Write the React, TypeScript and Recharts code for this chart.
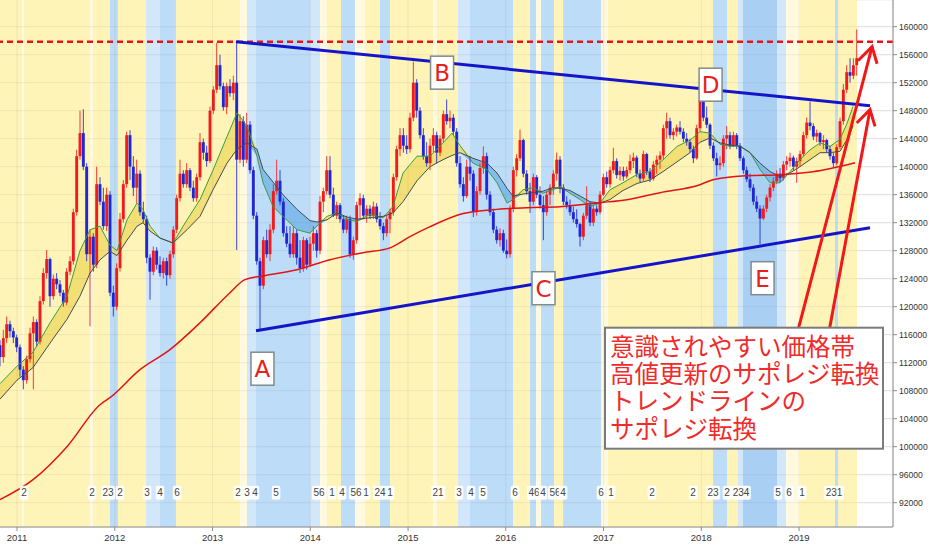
import React from 'react';
import {
  ComposedChart, Bar, Line, Area, Scatter, XAxis, YAxis, CartesianGrid,
  ReferenceArea, ReferenceLine,
} from 'recharts';

// ---------- axis ticks ----------
const yearTicks = [2011, 2012, 2013, 2014, 2015, 2016, 2017, 2018, 2019];
const priceTicks = [92, 96, 100, 104, 108, 112, 116, 120, 124, 128, 132, 136, 140, 144, 148, 152, 156, 160]; // thousands of yen
const X_DOMAIN = [2010.826, 2019.961];
const Y_DOMAIN = [88.53, 163.81];

// ---------- candles (thousand yen): [open, high, low, close], one every ~12.5 days ----------
const START = 2010.826;
const STEP = 0.0341;
const candles: number[][] = [
  [114.5,115.2,111.5,112.8],[112.8,116.7,112.0,115.5],[115.5,118.6,114.8,117.5],[117.5,118.0,115.6,116.5],[116.5,117.0,114.8,115.6],
  [115.6,116.0,113.5,114.2],[114.2,114.6,110.0,111.0],[111.0,111.5,108.2,109.5],[109.5,113.0,109.0,112.5],[112.5,117.0,112.0,116.2],
  [116.2,118.6,108.2,117.8],[117.8,118.2,114.3,115.0],[115.0,121.5,114.6,120.8],[120.8,125.5,120.3,124.8],[124.8,128.1,124.0,126.8],
  [126.8,127.0,120.0,121.5],[121.5,124.6,121.0,124.0],[124.0,124.8,122.5,123.2],[123.2,123.8,121.5,122.0],[122.0,122.4,120.0,120.6],
  [120.6,125.5,120.2,125.0],[125.0,127.2,124.5,126.5],[126.5,134.0,126.0,133.5],[133.5,142.4,133.0,141.5],[141.5,148.0,141.0,144.8],
  [144.8,148.2,139.5,140.0],[140.0,140.5,126.5,127.5],[127.5,131.0,117.2,130.0],[130.0,130.5,125.0,126.0],[126.0,140.0,125.5,137.5],
  [137.5,138.5,134.5,135.0],[135.0,137.0,131.0,131.5],[131.5,137.0,130.8,136.0],[136.0,136.5,121.5,122.0],[122.0,123.0,118.6,120.0],
  [120.0,126.2,119.5,125.5],[125.5,133.4,125.0,132.5],[132.5,138.1,132.0,137.5],[137.5,145.0,137.0,144.5],[144.5,145.2,138.1,140.0],
  [140.0,141.5,135.8,137.0],[137.0,141.0,134.8,139.0],[139.0,139.5,133.0,133.5],[133.5,135.0,132.0,132.5],[132.5,133.0,126.2,127.0],
  [127.0,127.5,121.0,125.0],[125.0,128.6,124.5,128.0],[128.0,128.5,125.3,126.0],[126.0,127.2,124.3,124.8],[124.8,127.0,124.0,126.5],
  [126.5,127.0,123.0,124.5],[124.5,128.0,124.0,127.5],[127.5,131.5,127.0,131.0],[131.0,136.0,130.5,135.5],[135.5,141.0,135.0,139.0],
  [139.0,139.5,137.0,137.5],[137.5,140.5,137.0,139.5],[139.5,139.8,136.5,137.0],[137.0,138.0,135.0,135.5],[135.5,139.0,135.0,138.5],
  [138.5,144.8,138.0,143.5],[143.5,144.0,141.0,142.0],[142.0,143.0,140.0,140.8],[140.8,148.6,140.5,148.0],[148.0,151.5,147.5,151.0],
  [151.0,157.7,150.5,154.5],[154.5,156.0,151.0,151.5],[151.5,152.0,148.0,148.5],[148.5,152.0,147.5,151.5],[151.5,152.5,150.0,150.5],
  [150.5,153.0,149.5,152.0],[152.0,157.9,128.1,141.0],[141.0,147.5,140.5,146.5],[146.5,147.2,140.0,141.0],[141.0,147.7,140.5,146.0],
  [146.0,146.5,139.0,139.5],[139.5,140.0,132.5,133.0],[133.0,133.5,126.0,126.5],[126.5,127.0,116.7,123.0],[123.0,130.0,122.5,129.5],
  [129.5,131.0,127.0,127.5],[127.5,131.8,126.5,131.0],[131.0,137.5,130.5,136.5],[136.5,141.0,136.0,138.0],[138.0,139.5,134.5,135.0],
  [135.0,135.5,130.0,130.5],[130.5,131.5,128.5,129.0],[129.0,131.5,127.0,127.5],[127.5,131.5,127.0,130.5],[130.5,131.0,126.0,127.0],
  [127.0,129.5,124.8,125.5],[125.5,130.0,125.0,129.5],[129.5,129.8,125.3,126.0],[126.0,130.0,125.8,129.0],[129.0,131.5,128.0,130.5],
  [130.5,131.0,127.0,128.0],[128.0,135.8,127.5,135.0],[135.0,137.0,133.5,136.5],[136.5,141.5,136.0,139.5],[139.5,141.5,135.5,136.0],
  [136.0,137.0,132.8,133.0],[133.0,135.0,132.5,134.5],[134.5,134.8,132.0,132.5],[132.5,133.0,130.5,131.0],[131.0,133.0,130.5,132.5],
  [132.5,133.0,127.0,127.5],[127.5,130.0,126.7,129.5],[129.5,135.0,129.0,134.5],[134.5,136.2,132.5,135.5],[135.5,136.0,132.5,133.0],
  [133.0,134.5,132.0,134.0],[134.0,134.5,132.5,133.0],[133.0,135.0,132.5,134.3],[134.3,134.8,132.0,132.5],[132.5,133.5,131.0,131.5],
  [131.5,132.0,129.5,130.5],[130.5,133.0,130.0,132.5],[132.5,134.0,130.5,133.5],[133.5,139.0,133.0,138.5],[138.5,143.0,138.0,142.5],
  [142.5,145.5,141.5,144.5],[144.5,145.5,142.0,143.0],[143.0,144.5,141.8,142.5],[142.5,147.7,142.0,147.0],[147.0,155.0,146.5,152.0],
  [152.0,152.5,147.0,148.0],[148.0,148.5,144.0,144.5],[144.5,145.5,141.0,141.5],[141.5,143.5,140.0,140.5],[140.5,144.0,139.5,143.0],
  [143.0,145.5,142.0,144.5],[144.5,145.0,140.5,142.0],[142.0,144.5,141.5,144.0],[144.0,148.0,143.5,147.5],[147.5,149.6,146.0,146.5],
  [146.5,148.0,145.5,147.0],[147.0,147.5,144.5,145.0],[145.0,145.5,140.0,140.5],[140.5,141.5,137.0,137.5],[137.5,138.5,135.0,135.8],
  [135.8,141.0,135.5,140.0],[140.0,141.5,138.0,139.0],[139.0,139.5,132.8,133.5],[133.5,137.2,133.0,136.5],[136.5,140.5,136.0,139.8],
  [139.8,142.9,139.0,141.5],[141.5,142.0,135.3,136.0],[136.0,136.5,133.0,133.5],[133.5,134.0,130.5,131.0],[131.0,131.5,129.0,129.5],
  [129.5,131.2,128.6,130.5],[130.5,131.0,127.7,128.0],[128.0,129.6,126.9,127.5],[127.5,134.5,127.0,134.0],[134.0,140.0,133.5,139.5],
  [139.5,141.8,138.6,141.2],[141.2,145.3,140.8,143.8],[143.8,144.0,138.5,139.0],[139.0,139.5,136.0,136.5],[136.5,137.7,133.4,135.0],
  [135.0,139.0,134.5,138.5],[138.5,138.8,135.5,136.0],[136.0,137.2,134.0,134.5],[134.5,135.8,129.5,133.5],[133.5,136.5,133.0,136.0],
  [136.0,137.5,134.5,137.0],[137.0,139.5,136.0,139.0],[139.0,142.0,138.0,141.0],[141.0,141.5,136.2,137.0],[137.0,137.5,134.5,135.0],
  [135.0,135.8,134.0,134.5],[134.5,135.3,133.0,133.5],[133.5,134.3,132.0,132.5],[132.5,133.9,131.3,131.8],[131.8,132.0,128.6,130.0],
  [130.0,133.4,129.5,133.0],[133.0,137.2,132.5,134.5],[134.5,135.0,131.5,132.0],[132.0,134.5,131.5,134.0],[134.0,134.5,133.0,133.5],
  [133.5,136.5,133.2,136.0],[136.0,139.0,135.8,138.5],[138.5,139.3,137.0,137.5],[137.5,140.0,137.0,139.5],[139.5,142.7,139.0,140.8],
  [140.8,141.2,138.3,138.8],[138.8,140.0,138.0,139.4],[139.4,140.0,138.0,138.6],[138.6,140.0,138.3,139.5],[139.5,141.7,139.0,140.8],
  [140.8,142.0,139.8,141.3],[141.3,141.6,138.5,139.0],[139.0,139.6,137.8,138.3],[138.3,142.3,138.0,141.8],[141.8,142.0,138.8,139.3],
  [139.3,139.8,137.8,138.3],[138.3,140.8,138.0,140.3],[140.3,141.6,139.0,141.0],[141.0,142.2,139.7,141.6],[141.6,146.0,141.0,145.5],
  [145.5,147.7,144.0,146.5],[146.5,147.0,144.0,144.5],[144.5,145.5,143.8,145.0],[145.0,146.0,144.3,145.6],[145.6,146.5,144.6,145.0],
  [145.0,145.5,143.5,144.0],[144.0,144.8,143.0,143.5],[143.5,144.0,142.0,142.5],[142.5,143.0,140.5,141.2],[141.2,146.0,141.0,145.5],
  [145.5,150.0,145.0,149.5],[149.5,149.8,146.5,147.0],[147.0,148.6,145.5,146.0],[146.0,146.2,142.5,143.0],[143.0,143.5,140.8,141.2],
  [141.2,142.0,138.6,140.2],[140.2,141.5,139.5,140.5],[140.5,144.5,140.0,144.0],[144.0,145.8,142.5,144.5],[144.5,145.0,142.5,143.0],
  [143.0,145.0,142.8,144.5],[144.5,144.8,142.5,143.0],[143.0,143.4,140.8,141.2],[141.2,141.5,139.0,139.5],[139.5,140.0,137.8,138.2],
  [138.2,139.0,136.5,137.0],[137.0,137.5,134.5,135.0],[135.0,135.8,133.5,134.0],[134.0,134.5,128.9,132.6],[132.6,134.5,132.4,134.0],
  [134.0,136.0,133.5,135.6],[135.6,137.5,135.0,137.0],[137.0,138.5,136.5,137.9],[137.9,139.5,137.5,139.0],[139.0,139.8,137.8,138.4],
  [138.4,140.8,138.0,140.3],[140.3,141.5,139.5,140.8],[140.8,142.0,140.0,141.3],[141.3,141.6,139.5,140.0],[140.0,141.3,137.7,140.8],
  [140.8,142.3,140.0,141.8],[141.8,145.0,141.5,144.5],[144.5,147.0,144.0,146.3],[146.3,149.3,145.2,145.8],[145.8,146.2,143.8,144.3],
  [144.3,145.3,143.5,144.8],[144.8,145.0,143.0,143.5],[143.5,144.5,142.5,143.8],[143.8,144.0,142.0,142.5],[142.5,143.0,141.0,141.5],
  [141.5,142.0,139.9,140.5],[140.5,143.2,140.2,142.8],[142.8,147.0,142.5,146.5],[146.5,151.8,146.0,151.0],[151.0,154.5,150.5,153.5],
  [153.5,155.5,152.0,153.0],[153.0,155.5,152.5,154.5],[154.5,159.6,153.0,155.5],
];

// ---------- long moving average (red): [date, value] ----------
const maLong: number[][] = [
  [2010.826, 92.43], [2011.164, 95.29], [2011.511, 100.0], [2011.849, 106.0], [2011.951, 107.0],
  [2012.258, 111.0], [2012.565, 113.86], [2012.872, 117.7], [2013.179, 122.0], [2013.332, 123.86],
  [2013.517, 124.4], [2013.864, 125.29], [2014.202, 126.71], [2014.539, 127.71], [2014.816, 128.4],
  [2015.020, 130.0], [2015.225, 131.43], [2015.563, 133.3], [2015.870, 133.86], [2016.217, 134.14],
  [2016.555, 134.29], [2016.964, 134.86], [2017.240, 135.29], [2017.578, 136.29], [2017.987, 137.43],
  [2018.120, 138.14], [2018.468, 138.71], [2018.806, 138.86], [2019.143, 139.29], [2019.573, 140.57],
];

// ---------- fast (green) and slow (dark) moving averages: [date, fast, slow] ----------
const maPair: number[][] = [
  [2010.826, 109.0, 106.8], [2011.000, 111.5, 109.5], [2011.164, 113.5, 111.3], [2011.338, 117.7, 114.8],
  [2011.511, 121.5, 118.2], [2011.644, 128.0, 121.5], [2011.747, 131.0, 124.8], [2011.849, 131.5, 126.7],
  [2011.951, 128.8, 127.9], [2012.023, 128.0, 127.3], [2012.125, 132.4, 129.5], [2012.228, 134.8, 131.5],
  [2012.289, 133.9, 132.0], [2012.361, 131.5, 130.8], [2012.463, 129.8, 129.8], [2012.596, 129.1, 129.1],
  [2012.739, 132.4, 131.0], [2012.872, 135.3, 132.9], [2013.005, 139.5, 136.7], [2013.148, 144.3, 140.5],
  [2013.251, 147.7, 142.5], [2013.353, 145.8, 143.4], [2013.455, 141.5, 142.5], [2013.517, 137.7, 139.6],
  [2013.619, 134.3, 137.8], [2013.721, 132.9, 136.0], [2013.864, 131.0, 133.9], [2013.997, 130.5, 132.3],
  [2014.069, 131.5, 132.1], [2014.171, 132.9, 132.4], [2014.274, 133.4, 133.4], [2014.376, 132.4, 132.8],
  [2014.478, 132.2, 132.5], [2014.611, 133.2, 132.7], [2014.744, 132.7, 132.9], [2014.846, 134.3, 133.4],
  [2014.949, 139.1, 135.0], [2015.092, 141.5, 138.0], [2015.225, 141.5, 140.0], [2015.358, 143.4, 141.0],
  [2015.450, 144.8, 141.6], [2015.532, 143.0, 142.0], [2015.665, 140.5, 141.2], [2015.808, 139.6, 140.5],
  [2015.910, 137.7, 139.1], [2016.013, 134.8, 136.9], [2016.074, 135.3, 135.8], [2016.176, 136.7, 136.1],
  [2016.279, 137.0, 136.3], [2016.381, 136.2, 136.5], [2016.483, 136.7, 137.0], [2016.555, 137.2, 136.9],
  [2016.657, 136.2, 136.6], [2016.760, 135.3, 135.8], [2016.862, 134.3, 135.0], [2016.964, 134.8, 134.8],
  [2017.066, 136.7, 135.3], [2017.199, 137.7, 136.6], [2017.343, 138.9, 137.6], [2017.476, 139.3, 138.1],
  [2017.609, 141.0, 139.3], [2017.752, 142.9, 140.7], [2017.885, 143.8, 142.0], [2017.987, 145.0, 143.5],
  [2018.089, 144.8, 144.1], [2018.192, 143.2, 143.4], [2018.294, 142.9, 143.1], [2018.396, 143.0, 142.9],
  [2018.499, 142.0, 142.0], [2018.601, 139.6, 140.5], [2018.703, 137.7, 139.3], [2018.806, 137.7, 138.6],
  [2018.908, 139.3, 139.1], [2019.010, 141.0, 140.0], [2019.112, 142.4, 141.0], [2019.215, 143.4, 142.0],
  [2019.317, 142.9, 142.0], [2019.419, 143.9, 142.2], [2019.491, 146.2, 143.9], [2019.552, 148.6, 145.8],
];

// ---------- background session bands: [from, to, kind] ----------
const bands: [number, number, string][] = [
  [2010.826, 2011.051, 'Y'], [2011.051, 2011.072, 'YL'], [2011.072, 2011.747, 'Y'], [2011.747, 2011.777, 'YL'],
  [2011.777, 2011.951, 'Y'], [2011.951, 2012.033, 'B'], [2012.033, 2012.320, 'Y'], [2012.320, 2012.463, 'BL'],
  [2012.463, 2012.626, 'B'], [2012.626, 2013.281, 'Y'], [2013.281, 2013.353, 'YL'], [2013.353, 2013.445, 'BL'],
  [2013.445, 2013.997, 'B'], [2013.997, 2014.100, 'BL'], [2014.100, 2014.171, 'YL'], [2014.171, 2014.314, 'Y'],
  [2014.314, 2014.458, 'B'], [2014.458, 2014.560, 'YL'], [2014.560, 2014.713, 'Y'], [2014.713, 2014.816, 'B'],
  [2014.816, 2015.256, 'Y'], [2015.256, 2015.297, 'YL'], [2015.297, 2015.511, 'Y'], [2015.511, 2015.634, 'BL'],
  [2015.634, 2016.074, 'B'], [2016.074, 2016.248, 'Y'], [2016.248, 2016.309, 'B'], [2016.309, 2016.361, 'YL'],
  [2016.361, 2016.494, 'B'], [2016.494, 2016.586, 'Y'], [2016.586, 2016.974, 'B'], [2016.974, 2017.046, 'YL'],
  [2017.046, 2018.120, 'Y'], [2018.120, 2018.263, 'B'], [2018.263, 2018.376, 'Y'], [2018.376, 2018.427, 'BL'],
  [2018.427, 2018.775, 'BD'], [2018.775, 2018.867, 'BL'], [2018.867, 2019.010, 'YL'], [2019.010, 2019.368, 'Y'],
  [2019.368, 2019.399, 'B'], [2019.399, 2019.593, 'Y'],
];
const bandColors: Record<string, string> = {
  Y: '#fff4b8', YL: '#fffadf', B: '#bddcf7', BL: '#d2e7fa', BD: '#a9cff2',
};

// ---------- small event tags along the bottom: [date, text] ----------
const TAG_LEVEL = 93.43;
const eventTags: [number, string][] = [
  [2011.072, '2'], [2011.767, '2'], [2011.931, '23'], [2012.054, '2'], [2012.330, '3'], [2012.463, '4'],
  [2012.637, '6'], [2013.261, '2'], [2013.353, '3'], [2013.435, '4'], [2013.650, '5'], [2014.089, '56'],
  [2014.222, '1'], [2014.325, '4'], [2014.468, '56'], [2014.570, '1'], [2014.713, '24'], [2014.816, '1'],
  [2015.307, '21'], [2015.522, '3'], [2015.645, '4'], [2015.767, '5'], [2016.094, '6'], [2016.289, '46'],
  [2016.381, '4'], [2016.504, '56'], [2016.586, '4'], [2016.974, '6'], [2017.077, '1'], [2017.496, '2'],
  [2017.916, '2'], [2018.120, '23'], [2018.263, '2'], [2018.406, '234'], [2018.785, '5'], [2018.898, '6'],
  [2019.031, '1'], [2019.358, '231'],
];

// ---------- letter marks: [date, price, letter] ----------
const letterMarks: [number, number, string][] = [
  [2013.511, 111.14, 'A'], [2015.348, 153.43, 'B'], [2016.386, 122.64, 'C'],
  [2018.095, 151.71, 'D'], [2018.627, 124.07, 'E'],
];

// ---------- trend lines: [date1, price1, date2, price2] ----------
const trendLines: number[][] = [
  [2013.240, 157.86, 2019.726, 148.71],
  [2013.445, 116.57, 2019.726, 131.29],
];
const RESISTANCE = 157.86;

// ---------- red arrows ----------
const arrowShafts: number[][] = [
  [2018.964, 115.29, 2019.747, 157.14],
  [2019.291, 115.29, 2019.726, 148.14],
];
const arrowHeads: number[][] = [
  [2019.603, 155.14, 2019.747, 157.14, 2019.798, 154.71],
  [2019.590, 146.24, 2019.726, 148.14, 2019.777, 145.76],
];

// ---------- note ----------
const noteAnchor = [2017.015, 117.0];
const noteLines = ['意識されやすい価格帯', '高値更新のサポレジ転換', 'トレンドラインの', 'サポレジ転換'];

// ---------- derived tables ----------
const candleRows = candles.map(([o, h, l, c], i) => ({ t: START + i * STEP, o, h, l, c, hl: [l, h] }));
const longRows = maLong.map(([t, v]) => ({ t, v }));
const pairRows = maPair.map(([t, g, d]) => ({
  t, g, d, up: [d, Math.max(g, d)], dn: [Math.min(g, d), d],
}));
const tagRows = eventTags.map(([t, s]) => ({ t, y: TAG_LEVEL, s }));
const letterRows = letterMarks.map(([t, y, s]) => ({ t, y, s }));
const noteRows = [{ t: noteAnchor[0], y: noteAnchor[1] }];

const RED = '#f21b1b';
const BLUE = '#1f26d6';

function Candle(props: any) {
  const { x, y, width, height, payload } = props;
  if (!payload || payload.o == null || x == null) return null;
  const { o, h, l, c } = payload;
  const top = height >= 0 ? y : y + height;
  const hgt = Math.abs(height);
  const span = h - l || 1;
  const py = (v: number) => top + ((h - v) / span) * hgt;
  const col = c >= o ? RED : BLUE;
  const cx = x + width / 2;
  const b1 = py(Math.max(o, c));
  const b2 = py(Math.min(o, c));
  return (
    <g>
      <line x1={cx} x2={cx} y1={top} y2={top + hgt} stroke={col} strokeOpacity={0.85} strokeWidth={1} />
      <rect x={cx - 1.45} y={b1} width={2.9} height={Math.max(b2 - b1, 1)} fill={col} />
    </g>
  );
}

function EventTag(props: any) {
  const { cx, cy, payload } = props;
  if (cx == null) return null;
  const w = payload.s.length * 5.6 + 3;
  return (
    <g>
      <rect x={cx - w / 2} y={cy - 7} width={w} height={14} rx={2} fill="#ffffff" fillOpacity={0.92} />
      <text x={cx} y={cy + 3.5} textAnchor="middle" fontSize={10} fill="#444" fontFamily="'Liberation Sans', Arial, sans-serif">
        {payload.s}
      </text>
    </g>
  );
}

function LetterBox(props: any) {
  const { cx, cy, payload } = props;
  if (cx == null) return null;
  return (
    <g>
      <rect x={cx - 11.5} y={cy - 16.5} width={23} height={33} fill="#ffffff" stroke="#7f8c8d" strokeWidth={1.5} />
      <text x={cx} y={cy + 8.5} textAnchor="middle" fontSize={23} fill="#e8201c" fontFamily="'DejaVu Sans', sans-serif">
        {payload.s}
      </text>
    </g>
  );
}

function NoteBox(props: any) {
  const { cx, cy } = props;
  if (cx == null) return null;
  return (
    <g>
      <rect x={cx} y={cy} width={278} height={121} fill="#ffffff" stroke="#7b7b7b" strokeWidth={2} />
      {noteLines.map((s, i) => (
        <text key={i} x={cx + 5} y={cy + 28 + i * 27.4} fontSize={24.5} fill="#ef2b2b"
          fontFamily="'Noto Sans CJK JP', sans-serif">
          {s}
        </text>
      ))}
    </g>
  );
}

const tickFont = "'Liberation Sans', Arial, sans-serif";
const gridTint = 'rgba(110,110,110,0.10)';

export default function App() {
  return (
    <div style={{ width: 932, height: 550 }}>
      <style>{'body{margin:0;background:#ffffff}'}</style>
      <ComposedChart width={932} height={550} data={candleRows} margin={{ top: 0, right: 0, bottom: 0, left: 0 }}>
        <CartesianGrid stroke="#ebebeb" />
        {bands.map(([a, b, k], i) => (
          <ReferenceArea key={'band' + i} x1={a} x2={b} fill={bandColors[k]} fillOpacity={1} stroke="none" ifOverflow="hidden" />
        ))}
        {priceTicks.map((p) => (
          <ReferenceLine key={'gh' + p} y={p} stroke={gridTint} strokeWidth={1} />
        ))}
        {yearTicks.map((yv) => (
          <ReferenceLine key={'gv' + yv} x={yv} stroke={gridTint} strokeWidth={1} />
        ))}
        <Area data={pairRows} dataKey="up" type="linear" stroke="none" fill="#efdb66" fillOpacity={0.8} dot={false} activeDot={false} isAnimationActive={false} />
        <Area data={pairRows} dataKey="dn" type="linear" stroke="none" fill="#78b6ea" fillOpacity={0.85} dot={false} activeDot={false} isAnimationActive={false} />
        <Bar dataKey="hl" barSize={3} shape={(p: any) => <Candle {...p} />} isAnimationActive={false} />
        <Line data={pairRows} dataKey="g" type="linear" stroke="#3c9c3c" strokeWidth={1} dot={false} activeDot={false} isAnimationActive={false} />
        <Line data={pairRows} dataKey="d" type="linear" stroke="#434a56" strokeWidth={1} dot={false} activeDot={false} isAnimationActive={false} />
        <Line data={longRows} dataKey="v" type="monotone" stroke="#e01414" strokeWidth={1.5} dot={false} activeDot={false} isAnimationActive={false} />
        <ReferenceLine y={RESISTANCE} stroke="#e8141c" strokeWidth={2.5} strokeDasharray="6 4" />
        {trendLines.map(([t1, p1, t2, p2], i) => (
          <Line key={'tr' + i} data={[{ t: t1, v: p1 }, { t: t2, v: p2 }]} dataKey="v" type="linear"
            stroke="#1414c8" strokeWidth={3} dot={false} activeDot={false} isAnimationActive={false} />
        ))}
        {arrowShafts.map(([t1, p1, t2, p2], i) => (
          <Line key={'as' + i} data={[{ t: t1, v: p1 }, { t: t2, v: p2 }]} dataKey="v" type="linear"
            stroke="#f01818" strokeWidth={3} dot={false} activeDot={false} isAnimationActive={false} />
        ))}
        {arrowHeads.map(([t1, p1, t2, p2, t3, p3], i) => (
          <Line key={'ah' + i} data={[{ t: t1, v: p1 }, { t: t2, v: p2 }, { t: t3, v: p3 }]} dataKey="v" type="linear"
            stroke="#f01818" strokeWidth={3} dot={false} activeDot={false} isAnimationActive={false} />
        ))}
        <Scatter data={tagRows} dataKey="y" shape={(p: any) => <EventTag {...p} />} isAnimationActive={false} />
        <Scatter data={letterRows} dataKey="y" shape={(p: any) => <LetterBox {...p} />} isAnimationActive={false} />
        <Scatter data={noteRows} dataKey="y" shape={(p: any) => <NoteBox {...p} />} isAnimationActive={false} />
        <XAxis dataKey="t" type="number" domain={X_DOMAIN} ticks={yearTicks} allowDataOverflow interval={0}
          height={23} tickSize={4} tickMargin={3} stroke="#8a8a8a"
          tick={{ fontSize: 9.5, fill: '#333', fontFamily: tickFont }} tickFormatter={(v: number) => String(v)} />
        <YAxis orientation="right" type="number" domain={Y_DOMAIN} ticks={priceTicks} allowDataOverflow interval={0}
          width={39} tickSize={4} tickMargin={2} stroke="#8a8a8a"
          tick={{ fontSize: 8.6, fill: '#333', fontFamily: tickFont }} tickFormatter={(v: number) => String(Math.round(v * 1000))} />
      </ComposedChart>
    </div>
  );
}
